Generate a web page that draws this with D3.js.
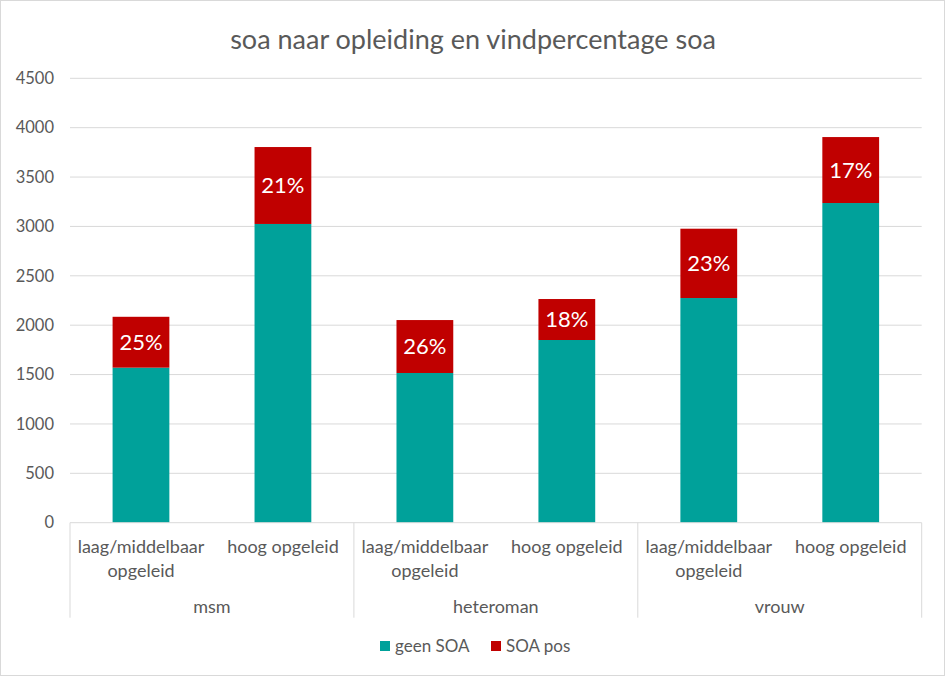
<!DOCTYPE html>
<html><head><meta charset="utf-8">
<script src="https://cdn.jsdelivr.net/npm/d3@7"></script>
<style>body{margin:0;background:#fff}svg{display:block}text{font-family:Lato,"Open Sans",sans-serif}</style>
</head><body>
<script>
const title = "soa naar opleiding en vindpercentage soa";
const groups = ["msm", "heteroman", "vrouw"];
const categories = [
  ["laag/middelbaar", "opgeleid"], ["hoog opgeleid"],
  ["laag/middelbaar", "opgeleid"], ["hoog opgeleid"],
  ["laag/middelbaar", "opgeleid"], ["hoog opgeleid"]
];
const geenSOA = [1570, 3025, 1516, 1850, 2275, 3237];
const soaPos  = [515, 779, 536, 415, 702, 668];
const pctLabels = ["25%", "21%", "26%", "18%", "23%", "17%"];
const yTicks = [0, 500, 1000, 1500, 2000, 2500, 3000, 3500, 4000, 4500];
const seriesNames = ["geen SOA", "SOA pos"];
const colors = ["#00A19A", "#C00000"];

(function () {
const W = 946, H = 677;
const mLeft = 70, mRight = 921.7, mTop = 78.3, mBottom = 522.7;
const svg = d3.select("body").append("svg").attr("width", W).attr("height", H);
svg.append("rect").attr("x", 0.5).attr("y", 0.5).attr("width", W - 2).attr("height", H - 2)
  .attr("fill", "#fff").attr("stroke", "#d9d9d9");

svg.append("text").attr("x", 473).attr("y", 49).attr("text-anchor", "middle")
  .attr("font-size", 27).attr("fill", "#595959").text(title);

const idx = d3.range(categories.length);
const x = d3.scaleBand().domain(idx).range([mLeft, mRight]).paddingInner(0.6).paddingOuter(0.3);
const y = d3.scaleLinear().domain([0, 4500]).range([mBottom, mTop]);

svg.append("g").selectAll("line").data(yTicks.filter(d => d > 0)).join("line")
  .attr("x1", mLeft).attr("x2", mRight).attr("y1", d => y(d)).attr("y2", d => y(d))
  .attr("stroke", "#d9d9d9").attr("stroke-width", 1);

svg.append("g").selectAll("text").data(yTicks).join("text")
  .attr("x", 54).attr("y", d => y(d)).attr("dy", "0.35em").attr("text-anchor", "end")
  .attr("font-size", 16.5).attr("fill", "#595959").text(d => d);

const stackData = idx.map(i => ({i, geen: geenSOA[i], pos: soaPos[i]}));
const stacked = d3.stack().keys(["geen", "pos"])(stackData);
svg.append("g").selectAll("g").data(stacked).join("g").attr("fill", (d, k) => colors[k])
  .selectAll("rect").data(d => d).join("rect")
  .attr("x", d => x(d.data.i)).attr("width", x.bandwidth())
  .attr("y", d => y(d[1])).attr("height", d => y(d[0]) - y(d[1]));

svg.append("g").selectAll("text").data(stacked[1]).join("text")
  .attr("x", d => x(d.data.i) + x.bandwidth() / 2).attr("y", d => (y(d[0]) + y(d[1])) / 2)
  .attr("dy", "0.35em").attr("text-anchor", "middle").attr("font-size", 22).attr("fill", "#fff")
  .text((d, i) => pctLabels[i]);

const step = x.step();
svg.append("line").attr("x1", mLeft).attr("x2", mRight).attr("y1", mBottom).attr("y2", mBottom)
  .attr("stroke", "#d9d9d9");
const sepX = d3.range(groups.length + 1).map(g => mLeft + g * 2 * step);
svg.append("g").selectAll("line").data(sepX).join("line")
  .attr("x1", d => d).attr("x2", d => d).attr("y1", mBottom).attr("y2", 617.7)
  .attr("stroke", "#d9d9d9");
svg.append("g").selectAll("text").data(categories).join("text")
  .attr("text-anchor", "middle").attr("font-size", 18).attr("fill", "#595959")
  .attr("transform", (d, i) => `translate(${x(i) + x.bandwidth() / 2},553)`)
  .selectAll("tspan").data(d => d).join("tspan")
  .attr("x", 0).attr("dy", (d, j) => j === 0 ? 0 : 23.5).text(d => d);
svg.append("g").selectAll("text").data(groups).join("text")
  .attr("x", (d, g) => mLeft + (g * 2 + 1) * step).attr("y", 613)
  .attr("text-anchor", "middle").attr("font-size", 18).attr("fill", "#595959").text(d => d);

const legX = [380, 491];
const leg = svg.append("g").selectAll("g").data(seriesNames).join("g")
  .attr("transform", (d, i) => `translate(${legX[i]},646)`);
leg.append("rect").attr("x", 0).attr("y", -5).attr("width", 10).attr("height", 10)
  .attr("fill", (d, i) => colors[i]);
leg.append("text").attr("x", 15).attr("y", 0).attr("dy", "0.35em").attr("font-size", 17)
  .attr("fill", "#595959").text(d => d);
})();
</script>
</body></html>
